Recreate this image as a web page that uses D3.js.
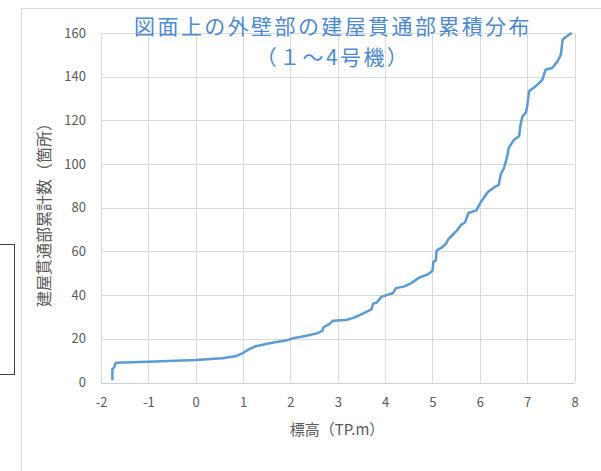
<!DOCTYPE html>
<html><head><meta charset="utf-8">
<script src="https://cdn.jsdelivr.net/npm/d3@7"></script>
<style>html,body{margin:0;padding:0;background:#fff;}svg{display:block;}</style>
</head><body>
<script>
// Data
const elevation = [-1.76,-1.76,-1.72,-1.69,-1.0,0.0,0.56,0.84,0.98,1.13,1.27,1.56,1.95,2.06,2.34,2.58,2.68,2.70,2.83,2.90,3.18,3.36,3.54,3.71,3.75,3.82,3.92,4.17,4.23,4.41,4.55,4.72,4.90,5.00,5.02,5.07,5.09,5.21,5.28,5.34,5.41,5.52,5.59,5.69,5.76,5.93,6.00,6.07,6.17,6.30,6.40,6.44,6.51,6.58,6.61,6.72,6.83,6.86,6.90,6.97,7.00,7.04,7.18,7.32,7.39,7.53,7.64,7.71,7.75,7.84,7.94];
const cumulative = [1,6,7,9,9.5,10.3,11.1,12,13.3,15.3,16.6,18,19.5,20.3,21.4,22.6,23.8,25.3,26.8,28.3,28.6,29.8,31.7,33.5,36.2,36.5,39.2,41,43.2,44,45.5,48,49.5,51,55.2,55.9,60.5,62,63.5,65.8,67.3,69.6,71.9,73.4,77.6,78.8,81.8,84.1,87.2,89.3,90.5,95.1,98.2,103.5,107.3,111.1,112.7,118,121.8,123.4,126.4,133.3,135.6,138.6,143.2,144,147,150,157,158.5,160];
const xTicks = [-2,-1,0,1,2,3,4,5,6,7,8];
const yTicks = [0,20,40,60,80,100,120,140,160];
const titleLines = ["図面上の外壁部の建屋貫通部累積分布", "（１～4号機）"];
const xTitle = "標高（TP.m）";
const yTitle = "建屋貫通部累計数（箇所）";

const W = 601, H = 471;
const svg = d3.select("body").append("svg").attr("width", W).attr("height", H);
const x = d3.scaleLinear().domain([-2, 8]).range([101, 574.5]);
const y = d3.scaleLinear().domain([0, 160]).range([382.5, 33]);

// chart area border (partial, as in screenshot)
svg.append("line").attr("x1",21.5).attr("x2",21.5).attr("y1",8.5).attr("y2",H).attr("stroke","#d9d9d9");
svg.append("line").attr("x1",21.5).attr("x2",W).attr("y1",8.5).attr("y2",8.5).attr("stroke","#d9d9d9");
// stray box at left
svg.append("rect").attr("x",-1).attr("y",244.5).attr("width",15.5).attr("height",130).attr("fill","none").attr("stroke","#404040");

const font = "'Noto Sans CJK JP','Noto Sans',sans-serif";
// gridlines
const g = svg.append("g");
g.selectAll(".vg").data(xTicks).join("line")
  .attr("x1", d => Math.round(x(d))+0.5).attr("x2", d => Math.round(x(d))+0.5)
  .attr("y1", y(160)).attr("y2", y(0)).attr("stroke", "#d9d9d9").attr("stroke-width", 1);
g.selectAll(".hg").data(yTicks).join("line")
  .attr("x1", x(-2)).attr("x2", x(8))
  .attr("y1", d => Math.round(y(d))+0.5).attr("y2", d => Math.round(y(d))+0.5)
  .attr("stroke", d => d === 0 ? "#d0d0d0" : "#d9d9d9").attr("stroke-width", 1);

// axes via d3 axis (labels only)
const xAxis = svg.append("g").attr("transform", `translate(0,${y(0)})`)
  .call(d3.axisBottom(x).tickValues(xTicks).tickSize(0).tickPadding(15).tickFormat(d => String(d)));
xAxis.select(".domain").remove();
xAxis.selectAll("text").attr("font-family", font).attr("font-size", 13).attr("fill", "#595959");

const yAxis = svg.append("g").attr("transform", `translate(${x(-2)},0)`)
  .call(d3.axisLeft(y).tickValues(yTicks).tickSize(0).tickPadding(15).tickFormat(d => String(d)));
yAxis.select(".domain").remove();
yAxis.selectAll("text").attr("font-family", font).attr("font-size", 13).attr("fill", "#595959");

// line
const data = elevation.map((e, i) => [e, cumulative[i]]);
svg.append("path").datum(data)
  .attr("d", d3.line().x(d => x(d[0])).y(d => y(d[1])))
  .attr("fill", "none").attr("stroke", "#5b9bd5").attr("stroke-width", 2.5)
  .attr("stroke-linejoin", "round");

// title (one text element, two lines)
const t = svg.append("text").attr("text-anchor", "middle")
  .attr("font-family", font).attr("font-size", 21).attr("letter-spacing", 2.4).attr("fill", "#4f8ad0");
t.selectAll("tspan").data(titleLines).join("tspan")
  .attr("x", 333).attr("y", (d, i) => 34 + i * 31).text(d => d);

svg.append("text").attr("x", 337).attr("y", 435).attr("text-anchor", "middle")
  .attr("font-family", font).attr("font-size", 15).attr("fill", "#595959").text(xTitle);
svg.append("text").attr("transform", "translate(50,211) rotate(-90)").attr("text-anchor", "middle")
  .attr("font-family", font).attr("font-size", 16).attr("fill", "#595959").text(yTitle);
</script>
</body></html>
